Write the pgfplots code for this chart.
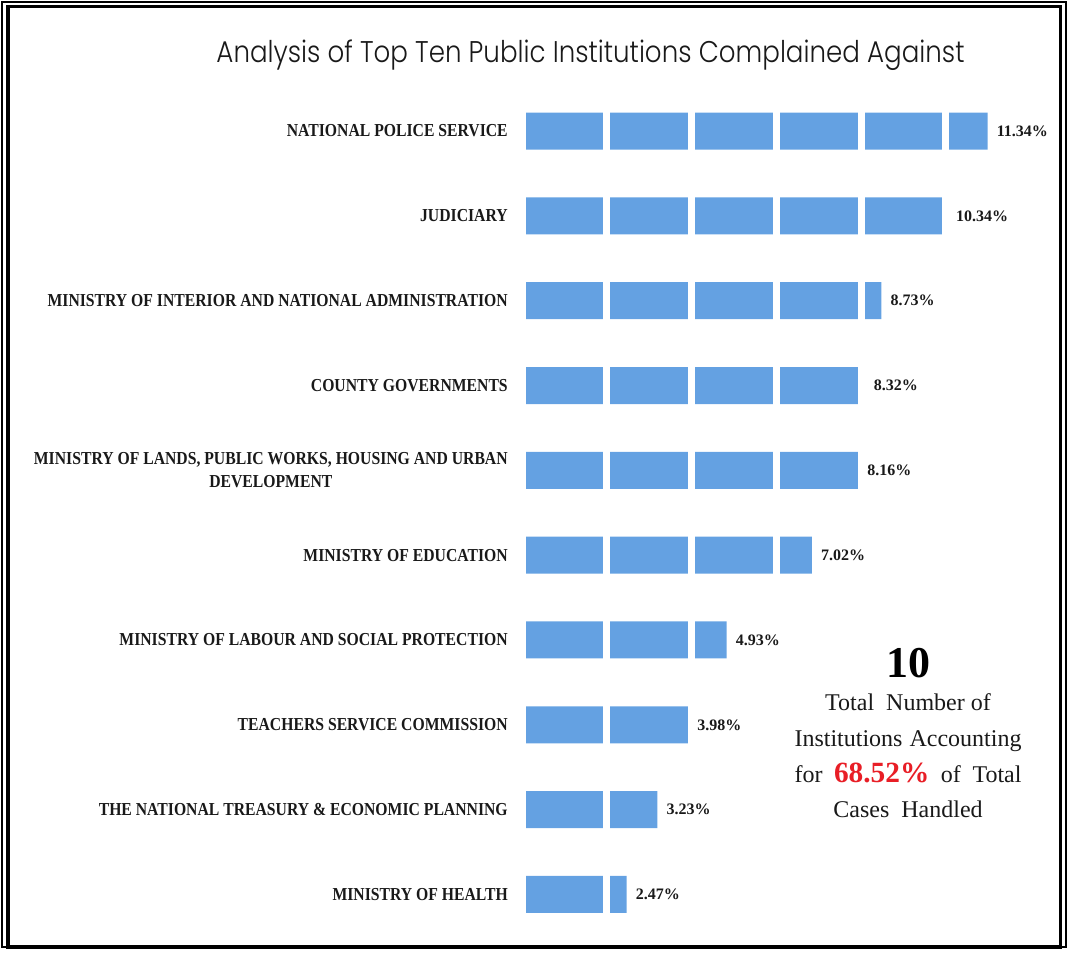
\documentclass[border=0pt]{standalone}
\usepackage{fontspec}
\setmainfont{Liberation Serif}
\newfontfamily\titlefont{Poppins Light}
\newfontfamily\labfont{Liberation Serif}[FakeStretch=0.86]
\usepackage{pgfplots}
\usepackage{pgfplotstable}
\pgfplotsset{compat=1.18}
\definecolor{barblue}{RGB}{100,161,226}
\definecolor{redtxt}{RGB}{232,30,38}
\definecolor{txt}{RGB}{25,25,25}

\pgfplotstableread{
idx val lab
1 11.34 11.34
2 10.34 10.34
3 8.73 8.73
4 8.32 8.32
5 8.16 8.16
6 7.02 7.02
7 4.93 4.93
8 3.98 3.98
9 3.23 3.23
10 2.47 2.47
}\datatable

\begin{document}
\begin{tikzpicture}
\path[use as bounding box] (0pt,0pt) rectangle (801.75pt,-714pt);
\draw[line width=1.5pt] (1.5pt,-1.5pt) rectangle (799.5pt,-710.25pt);
\draw[line width=2.6pt] (6pt,-4.9pt) rectangle (795.4pt,-710.25pt);
\node[font=\titlefont, text=txt, inner sep=0pt] at (442.9pt,-41.5pt) {\resizebox*{561pt}{23pt}{Analysis of Top Ten Public Institutions Complained Against}};

\begin{axis}[
  at={(394.5pt,-66.45pt)}, anchor=north west,
  scale only axis, width=323.6pt, height=636.2pt,
  xmin=0, xmax=10.6, ymin=0.5, ymax=10.5, y dir=reverse,
  xbar, bar width=27.75pt,
  axis line style={draw=none},
  major tick length=0pt,
  xtick={1.978,4.054,6.155,8.231,10.295},
  xticklabels={},
  xmajorgrids, major grid style={draw=white, line width=5.25pt},
  axis on top,
  ytick={1,...,10},
  yticklabels={
    {NATIONAL POLICE SERVICE},
    {JUDICIARY},
    {MINISTRY OF INTERIOR AND NATIONAL ADMINISTRATION},
    {COUNTY GOVERNMENTS},
    {MINISTRY OF LANDS, PUBLIC WORKS, HOUSING AND URBAN\\DEVELOPMENT},
    {MINISTRY OF EDUCATION},
    {MINISTRY OF LABOUR AND SOCIAL PROTECTION},
    {TEACHERS SERVICE COMMISSION},
    {THE NATIONAL TREASURY \& ECONOMIC PLANNING},
    {MINISTRY OF HEALTH}},
  yticklabel style={font=\labfont\fontsize{13.7}{17}\selectfont\bfseries, text=txt, align=center, inner xsep=0pt, xshift=-13.5pt},
  clip=false,
  point meta=explicit symbolic,
  nodes near coords={\pgfplotspointmeta\%},
  nodes near coords style={anchor=west, inner xsep=0pt, xshift=6.75pt, text=txt, font=\fontsize{12}{14}\selectfont\bfseries},
]
\addplot[fill=barblue, draw=none] table[x=val, y=idx, meta=lab] {\datatable};
\end{axis}

\node[anchor=base, text=black, font=\fontsize{33}{33}\selectfont\bfseries] at (681pt,-507.75pt) {10};
\node[anchor=base, text=txt, font=\fontsize{18}{18}\selectfont] at (681pt,-532.5pt) {Total\ \ Number\ of};
\node[anchor=base, text=txt, font=\fontsize{18}{18}\selectfont] at (681pt,-559.5pt) {\makebox[170.25pt][s]{Institutions Accounting}};
\node[anchor=base, text=txt, font=\fontsize{18}{18}\selectfont] at (681pt,-586.5pt) {\makebox[170.25pt][s]{for {\color{redtxt}\fontsize{22}{22}\selectfont\bfseries 68.52\%} of Total}};
\node[anchor=base, text=txt, font=\fontsize{18}{18}\selectfont] at (681pt,-612.75pt) {Cases\ \ Handled};
\end{tikzpicture}
\end{document}
